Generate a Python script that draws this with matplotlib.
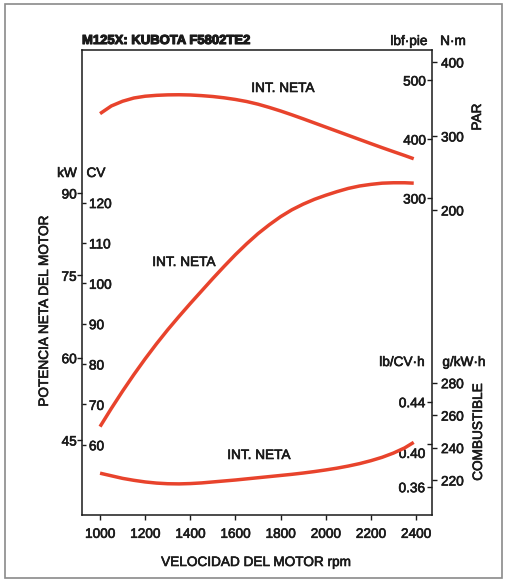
import matplotlib
matplotlib.use('Agg')
import matplotlib.pyplot as plt
from matplotlib.patches import Rectangle
import matplotlib.patheffects as pe

# ---------------- data ----------------
rpm = [1000, 1050, 1100, 1150, 1200, 1250, 1300, 1350, 1400, 1450, 1500, 1550, 1600, 1650,
       1700, 1750, 1800, 1850, 1900, 1950, 2000, 2050, 2100, 2150, 2200, 2250, 2300, 2350, 2390]
power_cv = [64.5, 69.0, 73.3, 77.4, 81.3, 85.0, 88.5, 91.8, 95.0, 98.1, 101.2, 104.2, 107.1, 109.8,
            112.3, 114.5, 116.5, 118.2, 119.6, 120.8, 121.8, 122.7, 123.5, 124.1, 124.5, 124.8, 124.9, 124.9, 124.8]
torque = [443, 456, 464, 469.5, 472.5, 474, 474.8, 475, 474.6, 473.5, 472, 469.8, 467, 463.5,
          459, 453.5, 447.5, 441, 434.2, 427.2, 420.2, 413.2, 406.2, 399.2, 392.2, 385.3, 378.6, 372, 366.5]
fuel_g = [224.2, 222.6, 221.0, 219.8, 218.8, 218.1, 217.7, 217.6, 217.8, 218.2, 218.8, 219.4, 220.0, 220.7,
          221.4, 222.1, 222.8, 223.5, 224.3, 225.2, 226.2, 227.3, 228.6, 230.1, 231.9, 234.0, 236.6, 239.8, 243.2]

x_ticks = [1000, 1200, 1400, 1600, 1800, 2000, 2200, 2400]
kw_ticks = [45, 60, 75, 90]
cv_ticks = [60, 70, 80, 90, 100, 110, 120]
torque_in_ticks = [300, 400, 500]
torque_out_ticks = [200, 300, 400]
fuel_lb_ticks = [0.36, 0.40, 0.44]
fuel_g_ticks = [220, 240, 260, 280]

title = "M125X: KUBOTA F5802TE2"
curve_label = "INT. NETA"

# ---------------- layout ----------------
W_PX, H_PX = 507, 582
BOX_L, BOX_R, BOX_T, BOX_B = 82, 432, 50, 515
RED = '#e8432c'
INK = '#1a1a1a'
plt.rcParams['font.family'] = ['Liberation Sans', 'DejaVu Sans']
HEAVY = [pe.withStroke(linewidth=0.45, foreground=INK)]
HEAVIER = [pe.withStroke(linewidth=0.8, foreground=INK)]

fig = plt.figure(figsize=(W_PX / 100, H_PX / 100), dpi=100)
rect = [BOX_L / W_PX, 1 - BOX_B / H_PX, (BOX_R - BOX_L) / W_PX, (BOX_B - BOX_T) / H_PX]
XLIM = (920, 2471)


def lims(va, pa, vb, pb):
    s = (vb - va) / (pb - pa)
    return (va + (BOX_B - pa) * s, va + (BOX_T - pa) * s)


def fx(px):
    return px / W_PX


def fy(py):
    return 1 - py / H_PX


TS = 9.8
LW = 2.5


def heavy_ticks(a, which='y'):
    labels = a.get_yticklabels() if which == 'y' else a.get_xticklabels()
    for l in labels:
        l.set_path_effects(HEAVY)


# main axes: kW
ax = fig.add_axes(rect)
ax.set_xlim(*XLIM)
kw_lim = lims(45, 440, 90, 193)
ax.set_ylim(*kw_lim)
ax.set_xticks(x_ticks)
ax.set_yticks(kw_ticks)
for s in ax.spines.values():
    s.set_color(INK)
    s.set_linewidth(1.1)
ax.tick_params(axis='x', direction='out', length=3.5, width=1, pad=5, labelsize=TS, colors=INK)
ax.tick_params(axis='y', direction='out', length=3.5, width=1, pad=0.3, labelsize=TS, colors=INK)
heavy_ticks(ax, 'x')
heavy_ticks(ax, 'y')


def overlay():
    a = fig.add_axes(rect, frameon=False)
    a.set_xlim(*XLIM)
    a.patch.set_visible(False)
    a.xaxis.set_visible(False)
    return a


# CV (inside, left)
ax_cv = overlay()
ax_cv.set_ylim(kw_lim[0] * 1.3596, kw_lim[1] * 1.3596)
ax_cv.set_yticks(cv_ticks)
ax_cv.tick_params(axis='y', direction='in', length=3, width=1, pad=-5, labelsize=TS, colors=INK)
for t in ax_cv.yaxis.get_major_ticks():
    t.label1.set_horizontalalignment('left')
heavy_ticks(ax_cv)
ax_cv.plot(rpm, power_cv, color=RED, lw=LW, solid_capstyle='butt')

# torque inside right
ax_tq = overlay()
ax_tq.set_ylim(*lims(300, 198, 500, 80))
ax_tq.yaxis.tick_right()
ax_tq.set_yticks(torque_in_ticks)
ax_tq.tick_params(axis='y', direction='in', length=3.5, width=1, pad=-4.5, labelsize=TS, colors=INK)
for t in ax_tq.yaxis.get_major_ticks():
    t.label2.set_horizontalalignment('right')
heavy_ticks(ax_tq)
ax_tq.plot(rpm, torque, color=RED, lw=LW, solid_capstyle='butt')

# torque outside right
ax_tq2 = overlay()
ax_tq2.set_ylim(*lims(200, 210, 400, 62))
ax_tq2.yaxis.tick_right()
ax_tq2.set_yticks(torque_out_ticks)
ax_tq2.tick_params(axis='y', direction='out', length=3.5, width=1, pad=3, labelsize=TS, colors=INK)
heavy_ticks(ax_tq2)

# fuel lb/CV h inside right
ax_lb = overlay()
ax_lb.set_ylim(*lims(0.36, 486.7, 0.44, 401.7))
ax_lb.yaxis.tick_right()
ax_lb.set_yticks(fuel_lb_ticks)
ax_lb.set_yticklabels(['0.36', '', '0.44'])
ax_lb.tick_params(axis='y', direction='in', length=3.5, width=1, pad=-5, labelsize=TS, colors=INK)
for t in ax_lb.yaxis.get_major_ticks():
    t.label2.set_horizontalalignment('right')
heavy_ticks(ax_lb)
ax_lb.annotate('0.40', xy=(1, 0.40), xycoords=('axes fraction', 'data'),
               xytext=(-5, -7), textcoords='offset points', ha='right', va='center',
               fontsize=TS, color=INK, path_effects=HEAVY)

# fuel g/kW h outside right
ax_g = overlay()
ax_g.set_ylim(*lims(220, 480, 280, 382.7))
ax_g.yaxis.tick_right()
ax_g.set_yticks(fuel_g_ticks)
ax_g.tick_params(axis='y', direction='out', length=3.5, width=1, pad=3, labelsize=TS, colors=INK)
heavy_ticks(ax_g)
ax_g.plot(rpm, fuel_g, color=RED, lw=LW, solid_capstyle='butt')


# ---------------- texts ----------------
def t(px, py, s, **kw):
    opts = dict(fontsize=TS, color=INK, ha='center', va='center', path_effects=HEAVY)
    opts.update(kw)
    fig.text(fx(px), fy(py), s, **opts)


t(82, 41, title, fontsize=9.4, fontweight='bold', ha='left', path_effects=HEAVIER)
t(409, 41, 'lbf·pie')
t(453, 41, 'N·m')
t(67, 173, 'kW')
t(96, 173, 'CV')
t(402, 362, 'lb/CV·h')
t(464, 362, 'g/kW·h')
t(283, 88, curve_label)
t(184, 262, curve_label)
t(259, 455, curve_label)
t(477, 117, 'PAR', rotation=90)
t(478, 432, 'COMBUSTIBLE', rotation=90)
t(44, 311, 'POTENCIA NETA DEL MOTOR', rotation=90)
t(256, 562, 'VELOCIDAD DEL MOTOR rpm')

# outer frame
fig.patches.append(Rectangle((fx(5), fy(578)), fx(497), 574 / H_PX, transform=fig.transFigure,
                             fill=False, edgecolor='#8a8a8a', linewidth=1.2))

fig.savefig('out.png', dpi=100, facecolor='white')
